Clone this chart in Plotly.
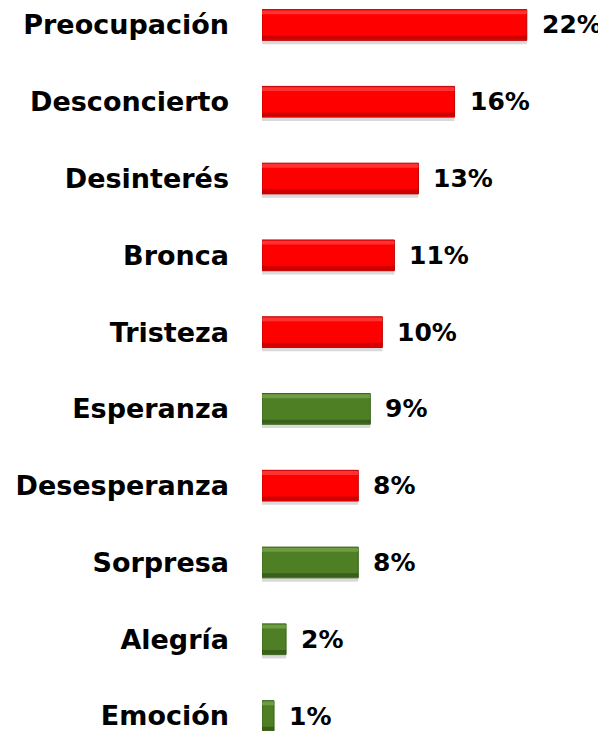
import plotly.graph_objects as go

categories = ["Preocupación", "Desconcierto", "Desinterés", "Bronca", "Tristeza",
              "Esperanza", "Desesperanza", "Sorpresa", "Alegría", "Emoción"]
values = [22, 16, 13, 11, 10, 9, 8, 8, 2, 1]
sentiment = ["neg", "neg", "neg", "neg", "neg", "pos", "neg", "pos", "pos", "pos"]

palette = {
    "neg": {"main": "#FF0000", "edge": "#C00000", "hi": "rgba(255,110,110,0.45)", "lo": "rgba(160,0,0,0.5)"},
    "pos": {"main": "#4E7F25", "edge": "#3A641C", "hi": "rgba(140,185,95,0.5)", "lo": "rgba(35,65,15,0.5)"},
}
main_colors = [palette[s]["main"] for s in sentiment]
edge_colors = [palette[s]["edge"] for s in sentiment]
hi_colors = [palette[s]["hi"] for s in sentiment]
lo_colors = [palette[s]["lo"] for s in sentiment]

LABEL_FONT = "DejaVu Sans"
VALUE_FONT = "DejaVu Sans"
BAR_W = 0.40

fig = go.Figure()
# shadow
fig.add_trace(go.Bar(x=values, y=categories, orientation="h", width=BAR_W,
                     offset=-BAR_W / 2 + 0.05,
                     marker=dict(color="rgba(0,0,0,0.15)", line=dict(width=0)),
                     hoverinfo="skip", showlegend=False))
# main bar
fig.add_trace(go.Bar(x=values, y=categories, orientation="h", width=BAR_W,
                     offset=-BAR_W / 2,
                     marker=dict(color=main_colors, line=dict(color=edge_colors, width=1)),
                     showlegend=False))
# top highlight (bevel)
fig.add_trace(go.Bar(x=values, y=categories, orientation="h", width=0.05,
                     offset=-BAR_W / 2 + 0.01,
                     marker=dict(color=hi_colors, line=dict(width=0)),
                     hoverinfo="skip", showlegend=False))
# bottom shade (bevel)
fig.add_trace(go.Bar(x=values, y=categories, orientation="h", width=0.05,
                     offset=BAR_W / 2 - 0.06,
                     marker=dict(color=lo_colors, line=dict(width=0)),
                     hoverinfo="skip", showlegend=False))

for c, v in zip(categories, values):
    fig.add_annotation(x=v, y=c, text=f"<b>{v}%</b>", showarrow=False,
                       xanchor="left", xshift=13, yanchor="middle",
                       font=dict(family=VALUE_FONT, size=25, color="black"))

fig.update_layout(
    width=598, height=723,
    margin=dict(l=254, r=7, t=0, b=0, autoexpand=False),
    paper_bgcolor="white", plot_bgcolor="white",
    barmode="overlay",
    xaxis=dict(range=[0, 28], visible=False, automargin=False),
    yaxis=dict(type="category", categoryorder="array", categoryarray=categories,
               range=[9.195, -0.221], showgrid=False, zeroline=False, showline=False,
               automargin=False, ticks="", ticklabelstandoff=32,
               tickfont=dict(family=LABEL_FONT, size=27, color="black", weight="bold")),
)

fig.write_html("out.html")
